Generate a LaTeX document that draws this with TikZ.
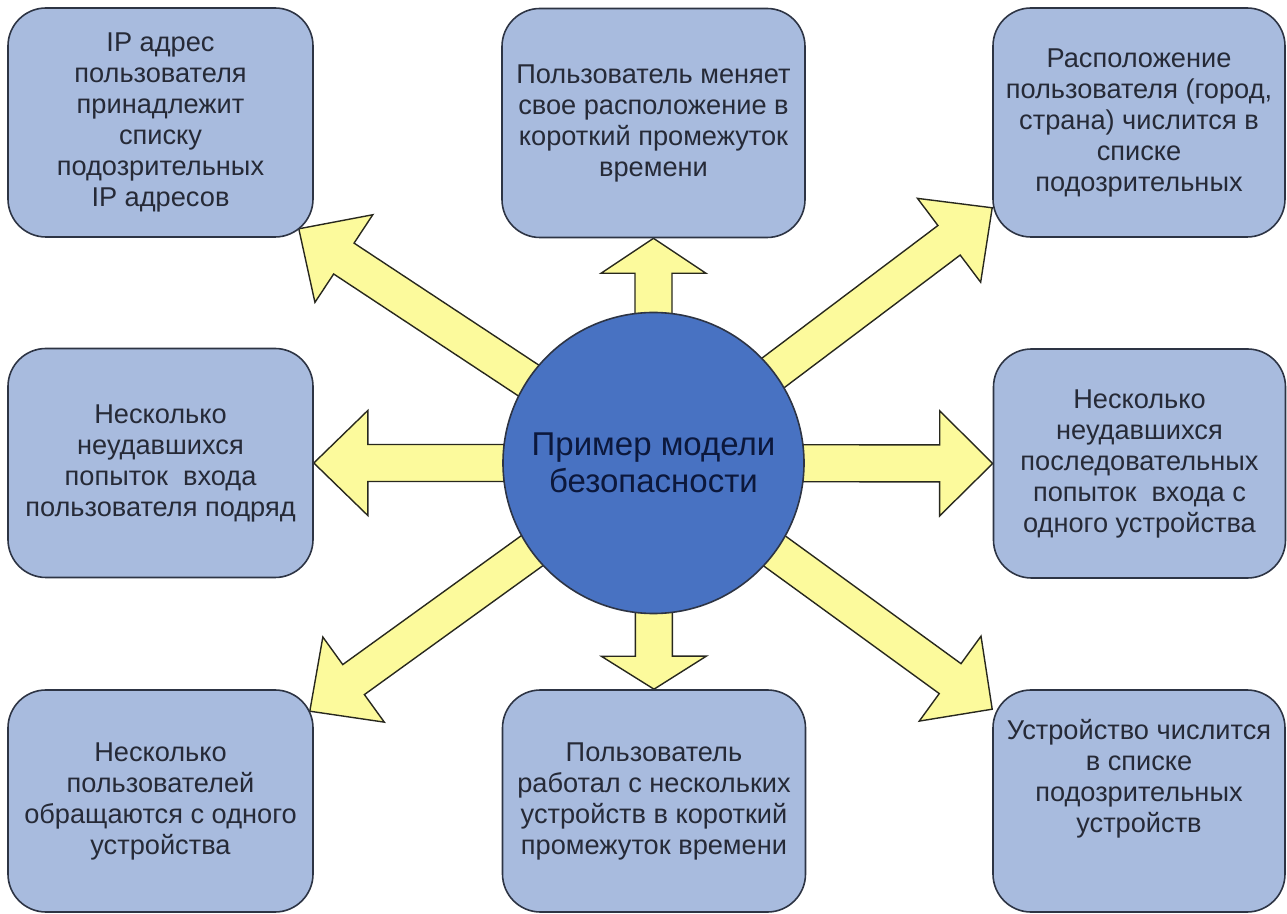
\documentclass[tikz,border=0pt]{standalone}
\usepackage{fontspec}
\setmainfont{Liberation Sans}
\usetikzlibrary{calc,backgrounds}
\definecolor{boxfill}{RGB}{168,187,222}
\definecolor{boxline}{RGB}{45,52,68}
\definecolor{hubfill}{RGB}{72,114,194}
\definecolor{txt}{RGB}{38,42,55}
\definecolor{hubtxt}{RGB}{12,24,60}
\definecolor{arrfill}{RGB}{252,250,156}
\definecolor{arrline}{RGB}{40,40,30}
\newcommand{\blockarrow}[3]{%
  \coordinate (ba-h) at ($(#2)!#3!(#1)$);
  \filldraw[barrow]
    ($(#1)!9.25pt!90:(#2)$) -- ($(ba-h)!9.25pt!90:(#2)$) --
    ($(ba-h)!26.25pt!90:(#2)$) -- (#2) --
    ($(ba-h)!26.25pt!-90:(#2)$) -- ($(ba-h)!9.25pt!-90:(#2)$) --
    ($(#1)!9.25pt!-90:(#2)$) -- cycle;
}
\begin{document}
\begin{tikzpicture}[x=0.5pt,y=-0.5pt,
  box/.style={draw=boxline, fill=boxfill, rounded corners=19pt, line width=0.8pt,
    align=center, text=txt, font=\fontsize{13.6}{15.5}\selectfont, inner sep=0pt},
  colL/.style={minimum width=152.5pt},
  colM/.style={minimum width=151.5pt},
  colR/.style={minimum width=146pt},
  rowT/.style={minimum height=114.5pt},
  rowB/.style={minimum height=111pt},
  hub/.style={circle, draw=boxline, fill=hubfill, line width=0.8pt, minimum size=150.5pt,
    align=center, text=hubtxt, font=\fontsize{16.5}{18.5}\selectfont, inner sep=0pt},
  barrow/.style={draw=arrline, fill=arrfill, line width=0.7pt, line join=miter}
]
\useasboundingbox (0,0) rectangle (1287,914);

% boxes
\node[box,colL,rowT] (tl) at (160.5,122.5) {IP адрес\\пользователя\\принадлежит\\списку\\подозрительных\\IP адресов};
\node[box,colM,rowT] (tm) at (653.5,123) {Пользователь меняет\\свое расположение в\\короткий промежуток\\времени};
\node[box,colR,rowT] (tr) at (1139,122.5) {Расположение\\пользователя (город,\\страна) числится в\\списке\\подозрительных};
\node[box,colL,rowT] (ml) at (160.5,463) {Несколько\\неудавшихся\\попыток~~входа\\пользователя подряд};
\node[box,colR,rowT] (mr) at (1139.5,463.5) {Несколько\\неудавшихся\\последовательных\\попыток~~входа с\\одного устройства};
\node[box,colL,rowB] (bl) at (160.5,801) {Несколько\\пользователей\\обращаются с одного\\устройства};
\node[box,colM,rowB] (bm) at (654,801) {Пользователь\\работал с нескольких\\устройств в короткий\\промежуток времени};
\node[box,colR,rowB] (br) at (1139,801) {Устройство числится\\в списке\\подозрительных\\устройств\\[10pt]};

% hub
\node[hub] (c) at (653.5,463) {Пример модели\\безопасности};

% arrow tips on the boxes
\coordinate (p-tl) at ($(tl.south east)+(-15,-9)$);
\coordinate (p-tr) at ($(tr.south west)+(0,-30)$);
\coordinate (p-bl) at ($(bl.north east)+(-4,22)$);
\coordinate (p-br) at ($(br.north west)+(0,20)$);

\begin{scope}[on background layer]
  \blockarrow{c.center}{tm.south}{17.5pt}
  \blockarrow{c.center}{bm.north}{16.5pt}
  \blockarrow{c.center}{ml.east}{27pt}
  \blockarrow{c.center}{mr.west}{26.5pt}
  \blockarrow{c.center}{p-tl}{27pt}
  \blockarrow{c.center}{p-tr}{27pt}
  \blockarrow{c.center}{p-bl}{27pt}
  \blockarrow{c.center}{p-br}{26pt}
\end{scope}
\end{tikzpicture}
\end{document}
